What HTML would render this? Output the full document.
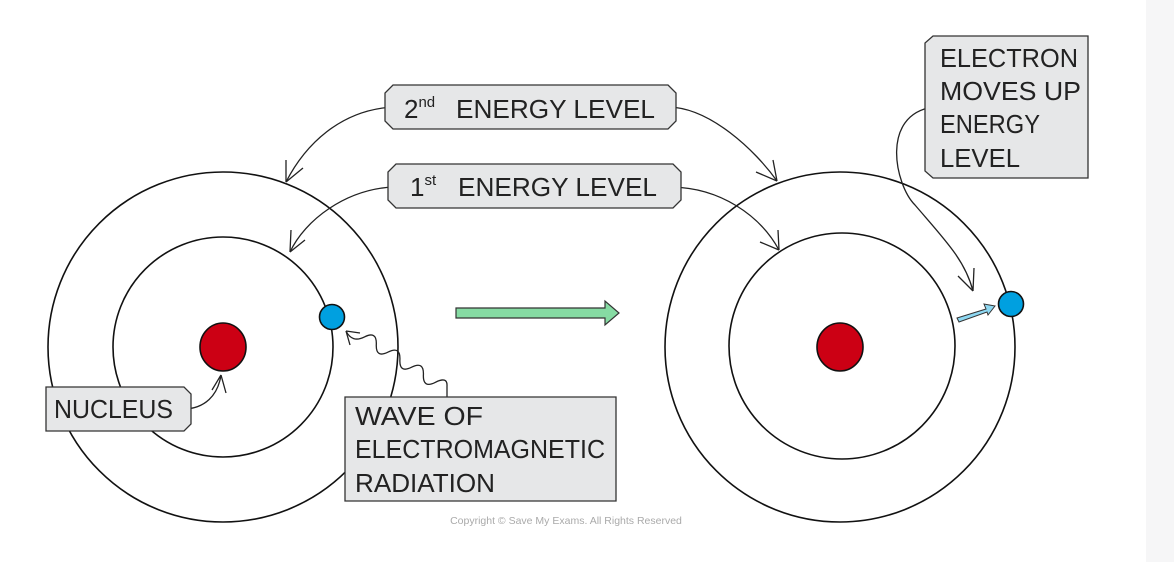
<!DOCTYPE html>
<html><head><style>
html,body{margin:0;padding:0;background:#fff;}
svg{display:block;}
text{font-family:"Liberation Sans",sans-serif;fill:#222;}
</style></head><body>
<svg width="1174" height="562" viewBox="0 0 1174 562" xmlns="http://www.w3.org/2000/svg">
<rect x="1146" y="0" width="28" height="562" fill="#f6f6f7"/>
<g fill="none" stroke="#111" stroke-width="1.6">
<circle cx="223" cy="347" r="175"/>
<circle cx="223" cy="347" r="110"/>
<circle cx="840" cy="347" r="175"/>
<circle cx="842" cy="346" r="113"/>
</g>
<ellipse cx="223" cy="347" rx="23" ry="24" fill="#cc0014" stroke="#111" stroke-width="1.6"/>
<ellipse cx="840" cy="347" rx="23" ry="24" fill="#cc0014" stroke="#111" stroke-width="1.6"/>
<circle cx="332" cy="317" r="12.5" fill="#00a0e0" stroke="#111" stroke-width="1.6"/>
<circle cx="1011" cy="304" r="12.5" fill="#00a0e0" stroke="#111" stroke-width="1.6"/>
<path d="M456 308 L605 308 L605 301 L619 313 L605 325 L605 318 L456 318 Z" fill="#86dba3" stroke="#333" stroke-width="1.2"/>
<path d="M957 318 L986 309 L984 304 L995 306 L988 315 L987 312 L959 322 Z" fill="#8ed8f2" stroke="#333" stroke-width="1"/>
<g fill="none" stroke="#222" stroke-width="1.3">
<path d="M393 107 C340 110 305 145 286 182"/>
<path d="M286 182 L286 160 M286 182 L303 168"/>
<path d="M392 187 C345 190 305 220 290 252"/>
<path d="M290 252 L291 230 M290 252 L305 240"/>
<path d="M669 107 C710 108 755 150 777 181"/>
<path d="M777 181 L773 160 M777 181 L756 172"/>
<path d="M672 187 C720 188 760 215 779 250"/>
<path d="M779 250 L778 230 M779 250 L760 242"/>
<path d="M933 107 C880 115 895 185 915 205 C945 240 965 260 973 291"/>
<path d="M973 291 L974 268 M973 291 L958 276"/>
<path d="M183 409 C205 409 218 395 221 375"/>
<path d="M221 375 L212 390 M221 375 L226 393"/>
<path d="M447 397 L447 386 Q447.6 376.1 435.2 382.4 Q422.8 388.7 423.4 374.8 Q424 360.9 411.6 367.2 Q399.2 373.5 399.9 359.7 Q400.5 345.8 388.1 352.1 Q375.7 358.4 376.3 344.5 Q376.9 330.6 364.5 336.9 Q352.1 343.2 346 331"/>
<path d="M346 331 L350 345 M346 331 L360 333"/>
</g>
<g fill="#fff" stroke="#222" stroke-width="1"><circle cx="393" cy="107" r="2.5"/><circle cx="392" cy="187" r="2.5"/><circle cx="669" cy="107" r="2.5"/><circle cx="672" cy="187" r="2.5"/><circle cx="933" cy="107" r="2.5"/><circle cx="183" cy="409" r="2.5"/></g>
<g fill="#e6e7e8" stroke="#333" stroke-width="1.3">
<path d="M393 85 L668 85 L676 93 L676 121 L668 129 L393 129 L385 121 L385 93 Z"/>
<path d="M396 164 L673 164 L681 172 L681 200 L673 208 L396 208 L388 200 L388 172 Z"/>
<path d="M933 36 L1088 36 L1088 178 L933 178 L925 171 L925 43 Z"/>
<path d="M46 387 L184 387 L191 394 L191 424 L184 431 L46 431 Z"/>
<path d="M345 397 L616 397 L616 501 L345 501 Z"/>
</g>
<g font-size="26">
<text x="404" y="118">2<tspan font-size="15" dy="-11">nd</tspan><tspan dy="11" x="456" textLength="199" lengthAdjust="spacingAndGlyphs">ENERGY  LEVEL</tspan></text>
<text x="410" y="196">1<tspan font-size="15" dy="-11">st</tspan><tspan dy="11" x="458" textLength="199" lengthAdjust="spacingAndGlyphs">ENERGY  LEVEL</tspan></text>
<text x="940" y="67" textLength="138" lengthAdjust="spacingAndGlyphs">ELECTRON</text>
<text x="940" y="100" textLength="141" lengthAdjust="spacingAndGlyphs">MOVES UP</text>
<text x="940" y="133" textLength="100" lengthAdjust="spacingAndGlyphs">ENERGY</text>
<text x="940" y="167" textLength="80" lengthAdjust="spacingAndGlyphs">LEVEL</text>
<text x="54" y="418" textLength="119" lengthAdjust="spacingAndGlyphs">NUCLEUS</text>
<text x="355" y="425" textLength="128" lengthAdjust="spacingAndGlyphs">WAVE  OF</text>
<text x="355" y="458" textLength="250" lengthAdjust="spacingAndGlyphs">ELECTROMAGNETIC</text>
<text x="355" y="492" textLength="140" lengthAdjust="spacingAndGlyphs">RADIATION</text>
</g>
<text x="566" y="524" font-size="10.5" text-anchor="middle" style="fill:#aaa">Copyright © Save My Exams. All Rights Reserved</text>
</svg>
</body></html>
